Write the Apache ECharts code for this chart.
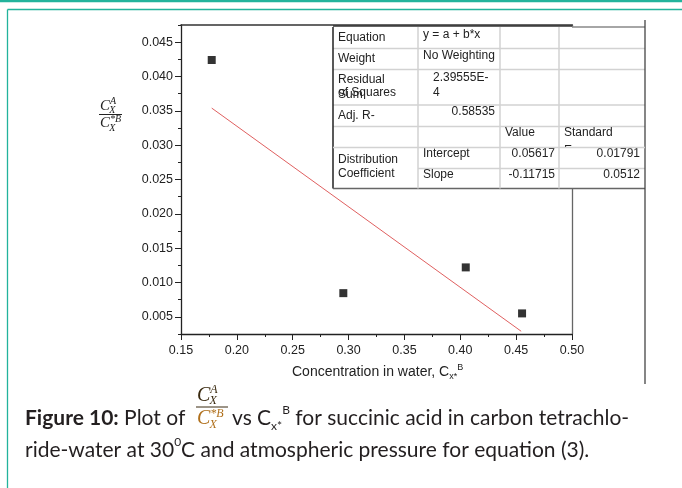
<!DOCTYPE html>
<html><head><meta charset="utf-8">
<script src="https://cdn.jsdelivr.net/npm/echarts@6/dist/echarts.min.js"></script>
<style>html,body{margin:0;padding:0;background:#fff}#c{width:682px;height:488px}</style>
</head><body><div id="c"></div>
<script>
// ---- data ----
const xValues = [0.1775, 0.2953, 0.4049, 0.4553];
const yValues = [0.0424, 0.00845, 0.0122, 0.0055];
const fitX = [0.1775, 0.4545];
const fitY = [0.0354, 0.0029];
const xTickLabels = ['0.15','0.20','0.25','0.30','0.35','0.40','0.45','0.50'];
const yTicks = [0.005,0.010,0.015,0.020,0.025,0.030,0.035,0.040,0.045];
const yMinorTicks = [0.0025,0.0075,0.0125,0.0175,0.0225,0.0275,0.0325,0.0375,0.0425,0.0475];
const tableEquation = ['Equation', 'y = a + b*x'];
const tableWeight = ['Weight', 'No Weighting'];
const tableRSS = ['Residual', 'Sum', 'of Squares', '2.39555E-', '4'];
const tableAdjR = ['Adj. R-', '0.58535'];
const tableHeader = ['Value', 'Standard', 'E'];
const tableGroup = ['Distribution', 'Coefficient'];
const tableIntercept = ['Intercept', '0.05617', '0.01791'];
const tableSlope = ['Slope', '-0.11715', '0.0512'];
const xTitle = ['Concentration in water, C', 'x*', 'B'];
const captionLine1a = ['Figure 10:', ' Plot of'];
const captionLine1b = ['vs C', 'x*', 'B', ' for succinic acid in carbon tetrachlo-'];
const captionLine2 = ['ride-water at 30', '0', 'C and atmospheric pressure for equation (3).'];

const chart = echarts.init(document.getElementById('c'), null, {renderer:'canvas'});
const AX = '#222';
const sans = 'Liberation Sans';
const capFont = 'Lato';
const teal = '#22b39c';

// table layout
const colX = [333, 418, 500, 559, 645];
const rowY = [27, 48.5, 69.5, 105, 126.5, 147.5, 168.5, 188.5];
const TZ = 100;
const g = [];
function line(x1,y1,x2,y2,color,w,z){ g.push({type:'line',z:z||TZ,silent:true,shape:{x1,y1,x2,y2},style:{stroke:color,lineWidth:w||1}}); }
function txt(x,y,t,opt){ opt=opt||{}; g.push({type:'text',z:opt.z||TZ+2,silent:true,x,y,style:Object.assign({text:t,font:'12px '+sans,fill:'#222',textAlign:'left',textVerticalAlign:'middle'},opt.style||{})}); }

// page frame
line(0,1,682,1,teal,2.5,1);
line(7.5,9.5,700,9.5,teal,1.3,1);
line(7.5,9.5,7.5,500,teal,1.3,1);

// table background
g.push({type:'rect',z:TZ,silent:true,shape:{x:colX[0],y:rowY[0],width:colX[4]-colX[0],height:rowY[7]-rowY[0]},style:{fill:'#fff'}});
const light = '#d2d2d2';
[1,2,3,4].forEach(i=>line(colX[0],rowY[i],colX[4],rowY[i],light,1.5,TZ+1));
line(colX[0],rowY[5],colX[4],rowY[5],light,1.5,TZ+5);
line(colX[1],rowY[6],colX[4],rowY[6],light,1.5,TZ+1);
[1,2,3].forEach(i=>line(colX[i],rowY[0],colX[i],rowY[7],light,1.5,TZ+5));
line(colX[0],rowY[0]-1,572,rowY[0]-1,'#333',1.5,TZ+1);
line(572,rowY[0],colX[4],rowY[0],'#888',1.5,TZ+1);
line(colX[0],rowY[0],colX[0],rowY[7],'#222',1.5,TZ+1);
line(colX[0],rowY[7],colX[4],rowY[7],'#666',1.5,TZ+1);
line(colX[4],20,colX[4],384,'#444',1.3,TZ+1);

// table texts
const L1 = colX[0]+5, L2 = colX[1]+5;
txt(L1,38,tableEquation[0]); txt(L2,35,tableEquation[1]);
txt(L1,59,tableWeight[0]); txt(L2,56,tableWeight[1]);
txt(L1,80,tableRSS[0]); txt(L1,94.5,tableRSS[1]); txt(L1,93,tableRSS[2]);
txt(colX[1]+15,78,tableRSS[3]); txt(colX[1]+15,93,tableRSS[4]);
txt(L1,116,tableAdjR[0]); txt(colX[2]-5,112,tableAdjR[1],{style:{textAlign:'right'}});
txt(colX[2]+5,133,tableHeader[0]); txt(colX[3]+5,133,tableHeader[1]);
// clipped "E" under "Standard" (only its top shows)
txt(colX[3]+5,151,tableHeader[2]);
g.push({type:'rect',z:TZ+3,silent:true,shape:{x:colX[3]+1,y:rowY[5]-0.5,width:35,height:18},style:{fill:'#fff'}});
txt(L1,160,tableGroup[0]); txt(L1,174,tableGroup[1]);
txt(L2,154,tableIntercept[0]); txt(colX[3]-4,154,tableIntercept[1],{style:{textAlign:'right'}}); txt(colX[4]-5,154,tableIntercept[2],{style:{textAlign:'right'}});
txt(L2,175,tableSlope[0]); txt(colX[3]-4,175,tableSlope[1],{style:{textAlign:'right'}}); txt(colX[4]-5,175,tableSlope[2],{style:{textAlign:'right'}});

// fractions
const ser = 'Liberation Serif';
function frac(x0, yBar, w, big, small, col1, col2){
  txt(x0+1, yBar-big*0.55, 'C', {z:5, style:{font:'italic '+big+'px '+ser, fill:col1}});
  txt(x0+1+big*0.66, yBar-big*0.85, 'A', {z:5, style:{font:'italic '+small+'px '+ser, fill:col1}});
  txt(x0+1+big*0.62, yBar-big*0.3, 'X', {z:5, style:{font:'italic '+small+'px '+ser, fill:col1}});
  line(x0, yBar, x0+w, yBar, col1, 1, 5);
  txt(x0+1, yBar+big*0.6, 'C', {z:5, style:{font:'italic '+big+'px '+ser, fill:col2}});
  txt(x0+1+big*0.66, yBar+big*0.35, '*B', {z:5, style:{font:'italic '+small+'px '+ser, fill:col2}});
  txt(x0+1+big*0.62, yBar+big*0.9, 'X', {z:5, style:{font:'italic '+small+'px '+ser, fill:col2}});
}
frac(99, 114.5, 23, 15, 10, '#222', '#222');
frac(196, 407, 32, 20, 12, '#3a2a10', '#b0701c');

// x-axis title
g.push({type:'text',z:5,silent:true,x:292,y:372,style:{
  text:'{a|'+xTitle[0]+'}{s|'+xTitle[1]+'}{p|'+xTitle[2]+'}',
  textVerticalAlign:'middle',
  rich:{a:{font:'14px '+sans,fill:'#222',lineHeight:18,verticalAlign:'middle'},
        s:{font:'9px '+sans,fill:'#222',lineHeight:18,verticalAlign:'bottom'},
        p:{font:'9px '+sans,fill:'#222',lineHeight:18,verticalAlign:'top'}}}});

// caption
const capRich = {
  b:{font:'bold 21px '+capFont,fill:'#231f20',lineHeight:28,verticalAlign:'middle'},
  n:{font:'21px '+capFont,fill:'#231f20',lineHeight:28,verticalAlign:'middle'},
  s:{font:'12px '+capFont,fill:'#231f20',lineHeight:28,verticalAlign:'bottom'},
  p:{font:'12px '+capFont,fill:'#231f20',lineHeight:28,verticalAlign:'top'}
};
g.push({type:'text',z:5,silent:true,x:25,y:418,style:{text:'{b|'+captionLine1a[0]+'}{n|'+captionLine1a[1]+'}',textVerticalAlign:'middle',rich:capRich}});
g.push({type:'text',z:5,silent:true,x:232,y:418,style:{text:'{n|'+captionLine1b[0]+'}{s|'+captionLine1b[1]+'}{p|'+captionLine1b[2]+'}{n|'+captionLine1b[3]+'}',textVerticalAlign:'middle',rich:capRich}});
g.push({type:'text',z:5,silent:true,x:25,y:450,style:{text:'{n|'+captionLine2[0]+'}{p|'+captionLine2[1]+'}{n|'+captionLine2[2]+'}',textVerticalAlign:'middle',rich:capRich}});

const option = {
  animation:false,
  backgroundColor:'#fff',
  grid:{left:181, top:25, right:110, bottom:154, containLabel:false},
  xAxis:[{
    type:'value', min:0.15, max:0.5, interval:0.05, position:'bottom',
    axisLine:{show:true,lineStyle:{color:AX,width:1.3}},
    axisTick:{show:true,length:6,lineStyle:{color:AX}},
    minorTick:{show:true,splitNumber:2,length:3,lineStyle:{color:AX}},
    axisLabel:{formatter:(v)=>{const s=v.toFixed(2);return xTickLabels.indexOf(s)>=0?s:'';},fontSize:12.5,color:'#222',fontFamily:sans,margin:10,showMinLabel:true,showMaxLabel:true},
    splitLine:{show:false}
  },{
    type:'value', min:0.15, max:0.5, position:'top',
    axisLine:{show:true,lineStyle:{color:'#333',width:1.5}},
    axisTick:{show:false}, axisLabel:{show:false}, splitLine:{show:false}
  }],
  yAxis:[{
    type:'value', min:0.0025, max:0.0475, position:'left',
    axisLine:{show:true,lineStyle:{color:AX,width:1.3}},
    axisTick:{show:true,length:6,customValues:yTicks,lineStyle:{color:AX}},
    axisLabel:{customValues:yTicks,formatter:(v)=>v.toFixed(3),fontSize:12.5,color:'#222',fontFamily:sans,margin:8},
    splitLine:{show:false}
  },{
    type:'value', min:0.0025, max:0.0475, position:'left',
    axisLine:{show:false},
    axisTick:{show:true,length:3,customValues:yMinorTicks,lineStyle:{color:AX}},
    axisLabel:{show:false}, splitLine:{show:false}
  },{
    type:'value', min:0.0025, max:0.0475, position:'right',
    axisLine:{show:true,lineStyle:{color:'#666',width:1.3}},
    axisTick:{show:false}, axisLabel:{show:false}, splitLine:{show:false}
  }],
  series:[{
    type:'scatter', xAxisIndex:0, yAxisIndex:0, symbol:'rect', symbolSize:8,
    itemStyle:{color:'#000'},
    data:xValues.map((x,i)=>[x,yValues[i]])
  },{
    type:'line', xAxisIndex:0, yAxisIndex:0, symbol:'none', silent:true,
    lineStyle:{color:'#e06060',width:1},
    data:fitX.map((x,i)=>[x,fitY[i]])
  }],
  graphic:{elements:g}
};
chart.setOption(option);
</script></body></html>
